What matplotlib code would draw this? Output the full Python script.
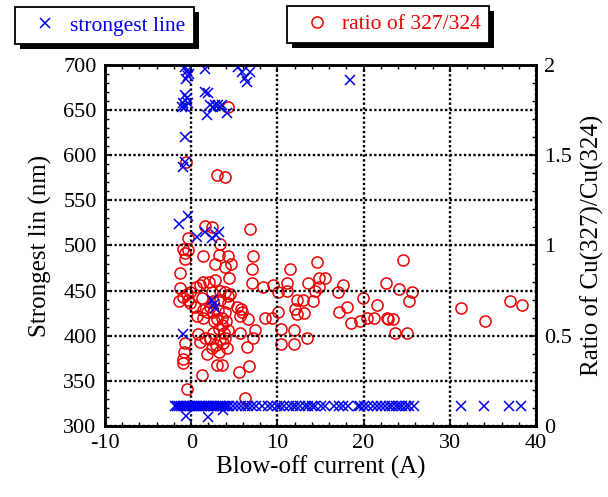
import matplotlib
matplotlib.use("Agg")
import matplotlib.pyplot as plt
from matplotlib.ticker import MultipleLocator
from matplotlib.patches import Rectangle

plt.rcParams['font.family'] = ['Liberation Serif', 'DejaVu Serif']
plt.rcParams['axes.unicode_minus'] = False

# Strongest emission line (nm) versus blow-off current (A)
line_current = [
    -0.70, -0.46, -0.35, -0.58, -0.30, 1.62, 5.45, 5.92, 6.84, 6.26, 6.50, 18.4,
    -0.70, -0.46, -0.93, -0.70, -1.05, -0.35, 1.62, 1.97,
    2.20, 2.78, 3.13, 3.60, 2.55, 3.36, 1.86, 4.18,
    -0.70, -0.93, -0.70, -1.39, -0.35, 0.70, 1.62, 2.44, 3.25, 2.90,
    2.44, 2.78, 2.65, -0.93, -0.58, 1.97, 3.71,
    -1.9, -1.6, -1.4, -1.2, -1.0, -0.8, -0.6, -0.5, -0.3, -0.1, 0.1, 0.3, 0.5,
    0.7, 0.9, 1.1, 1.3, 1.5, 1.7, 1.9, 2.1, 2.3, 2.5, 2.7, 2.9, 3.1, 3.3, 3.5,
    3.7, 3.9, 4.1, 4.4, 4.8, 5.3, 5.8, 6.2, 6.6, 7.1, 7.5, 8.2, 8.9, 9.4, 9.9,
    10.3, 10.8, 11.3, 11.8, 12.2, 12.6, 13.2, 13.6, 14.0, 14.4, 15.0, 15.5,
    16.6, 17.1, 17.6, 18.2, 19.3, 19.6, 20.1, 20.5, 21.1, 21.6, 22.0, 22.5,
    22.9, 23.3, 23.7, 24.1, 24.5, 24.9, 25.3, 25.8, 31.3, 34.0, 36.9, 38.3,
]
line_nm = [
    698, 693, 688, 684, 690, 696, 698, 692, 692, 686, 681, 683,
    667, 663, 658, 654, 654, 658, 670, 669,
    656, 656, 656, 656, 654, 654, 645, 647,
    620, 587, 593, 524, 533, 509, 515, 508, 515, 512,
    440, 431, 435, 402, 311, 310, 318,
] + [322] * 79

# Intensity ratio Cu(327)/Cu(324) versus blow-off current (A)
ratio_current = [
    4.29, -0.58, 3.02, 3.94, 1.62, 2.44, 6.84, -0.35, 3.36, -0.93,
    -0.35, -0.70, -0.70, 1.39, 3.25, 4.29, 7.19, 2.78, 3.94, 4.64,
    -1.28, 7.08, 4.41, 7.08, 11.5, 0.50, 1.00, 1.39, 2.09, 2.78,
    -1.28, -0.93, -0.35, -1.40, -0.12, 0.46, 1.28, 2.44, 3.36, 3.94,
    4.52, 2.55, 3.36, 4.29, 5.80, 5.92, 1.39, 2.20, 3.13, 3.94,
    10.09, 11.14, 9.51, 10.09, 8.60, 9.40, 0.70, 1.39, 1.86, 2.55,
    5.68, 6.61, 10.40, 7.42, 7.19, 5.68, 6.50, -0.70, -0.81, -0.93,
    -0.93, 0.81, 1.04, 1.62, 1.86, 2.44, 2.20, 2.55, 3.36, 3.71,
    3.94, 4.29, 3.60, 3.02, 3.60, 5.57, 6.73, 1.28, -0.46, 6.26,
    4.29, 11.14, 12.30, 12.99, 14.15, 17.05, 12.06, 12.30, 13.11, 17.17,
    18.10, 18.56, 19.61, 11.95, 13.46, 10.40, 11.95, 14.62, 13.57, 14.39,
    14.85, 15.55, 14.85, 17.63, 20.42, 21.23, 22.62, 22.74, 22.85, 23.43,
    21.58, 23.67, 25.06, 19.95, 24.59, 24.13, 25.64, 25.29, 31.32, 34.11,
    37.01, 38.40, 8.35, -0.46, -0.12, 5.34, 3.00, 3.60, 4.06, 3.25,
    3.83, 2.90, 4.18, 3.25, 2.67,
]
ratio_value = [
    1.77, 1.46, 1.39, 1.38, 1.11, 1.10, 1.09, 1.04, 1.01, 0.98,
    0.975, 0.96, 0.925, 0.94, 0.95, 0.94, 0.94, 0.90, 0.88, 0.90,
    0.85, 0.87, 0.82, 0.79, 0.87, 0.77, 0.78, 0.80, 0.80, 0.81,
    0.765, 0.715, 0.70, 0.69, 0.68, 0.66, 0.71, 0.74, 0.75, 0.74,
    0.73, 0.69, 0.70, 0.68, 0.65, 0.63, 0.64, 0.66, 0.64, 0.63,
    0.74, 0.75, 0.78, 0.63, 0.60, 0.60, 0.61, 0.60, 0.63, 0.63,
    0.61, 0.59, 0.54, 0.53, 0.49, 0.515, 0.44, 0.46, 0.41, 0.37,
    0.35, 0.51, 0.465, 0.49, 0.40, 0.43, 0.48, 0.515, 0.48, 0.46,
    0.49, 0.53, 0.56, 0.34, 0.34, 0.30, 0.33, 0.28, 0.205, 0.155,
    0.72, 0.79, 0.70, 0.70, 0.69, 0.74, 0.65, 0.62, 0.625, 0.63,
    0.66, 0.57, 0.58, 0.53, 0.49, 0.455, 0.455, 0.91, 0.79, 0.75,
    0.82, 0.82, 0.77, 0.78, 0.60, 0.60, 0.79, 0.60, 0.59, 0.59,
    0.67, 0.515, 0.515, 0.71, 0.92, 0.76, 0.74, 0.69, 0.655, 0.58,
    0.69, 0.67, 0.77, 0.73, 0.74, 0.66, 0.59, 0.60, 0.58, 0.54,
    0.515, 0.45, 0.43, 0.41, 0.58,
]

fig = plt.figure(figsize=(6.08, 4.97), dpi=100)
ax = fig.add_axes([0.1727, 0.1429, 0.7089, 0.7263])
ax2 = ax.twinx()

ax.set_xlim(-10, 40)
ax.set_ylim(300, 700)
ax2.set_ylim(0, 2)

cross = ax.plot(line_current, line_nm, linestyle='none', marker='x',
                color='#0000ee', markersize=7.8, markeredgewidth=1.1,
                label='strongest line')[0]
circ = ax2.plot(ratio_current, ratio_value, linestyle='none', marker='o',
                markerfacecolor='none', markeredgecolor='#ee0000',
                markersize=8, markeredgewidth=1.1,
                label='ratio of 327/324')[0]

# crosses drawn above the circles
ax.set_zorder(ax2.get_zorder() + 1)
ax.patch.set_visible(False)

ax.xaxis.set_major_locator(MultipleLocator(10))
ax.xaxis.set_minor_locator(MultipleLocator(2))
ax.yaxis.set_major_locator(MultipleLocator(50))
ax.yaxis.set_minor_locator(MultipleLocator(10))
ax2.yaxis.set_major_locator(MultipleLocator(0.5))
ax2.yaxis.set_minor_locator(MultipleLocator(0.1))
ax2.yaxis.set_major_formatter(plt.FuncFormatter(lambda v, p: f"{v:g}"))

ax.grid(True, which='major', color='black', linewidth=1.7,
        linestyle=(0, (1.0, 1.0)))

ax.tick_params(axis='x', which='both', direction='in', top=True,
               labelsize=16, pad=6)
ax.tick_params(axis='y', which='both', direction='in', right=False,
               labelsize=16, pad=6)
ax2.tick_params(axis='y', which='both', direction='in', labelsize=16, pad=6)
for a in (ax, ax2):
    a.tick_params(which='major', length=5, width=1.2)
    a.tick_params(which='minor', length=3, width=1.0)
    for s in a.spines.values():
        s.set_linewidth(1.8)

ax.set_xlabel('Blow-off current (A)', fontsize=18, labelpad=2)
ax.set_ylabel('Strongest lin (nm)', fontsize=18, labelpad=8)
ax2.set_ylabel('Ratio of Cu(327)/Cu(324)', fontsize=18, labelpad=6)

legend_style = dict(loc='center', fontsize=15.5, frameon=True,
                    fancybox=False, edgecolor='black', framealpha=1,
                    handlelength=2.0, handletextpad=0.15, borderpad=0.4,
                    borderaxespad=0)
leg1 = fig.legend(handles=[cross], bbox_to_anchor=(0.172, 0.948),
                  labelcolor='#0000ee', **legend_style)
leg2 = fig.legend(handles=[circ], bbox_to_anchor=(0.638, 0.951),
                  labelcolor='#ee0000', **legend_style)

# solid drop shadows behind both legend boxes
fig.canvas.draw()
for leg in (leg1, leg2):
    leg.get_frame().set_linewidth(1.3)
    leg.set_zorder(10)
    bb = leg.get_frame().get_window_extent()
    fig.add_artist(Rectangle((bb.x0 + 5, bb.y0 - 5), bb.width, bb.height,
                             transform=None, facecolor='black',
                             edgecolor='none', zorder=9))

fig.savefig('out.png', dpi=100)
